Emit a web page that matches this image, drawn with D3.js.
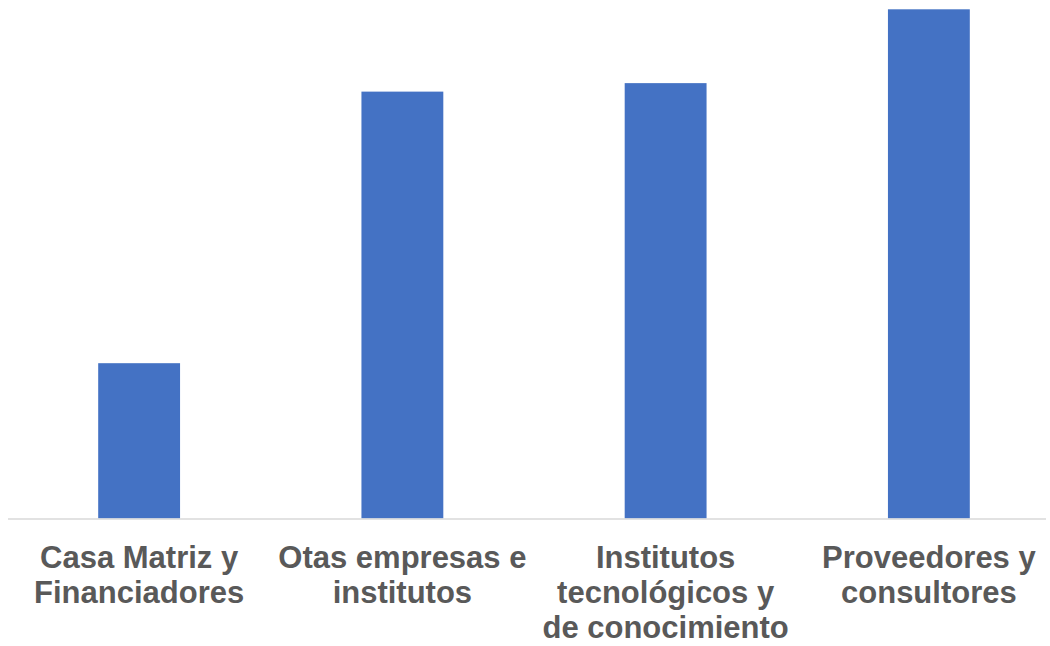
<!DOCTYPE html>
<html>
<head>
<meta charset="utf-8">
<script src="https://cdn.jsdelivr.net/npm/d3@7"></script>
<style>
  body { margin: 0; background: #fff; }
  svg { display: block; }
</style>
</head>
<body>
<svg width="1050" height="646"></svg>
<script>
// Category labels, already broken into lines as in the original chart
var categories = [
    ["Casa Matriz y", "Financiadores"],
    ["Otas empresas e", "institutos"],
    ["Institutos", "tecnológicos y", "de conocimiento"],
    ["Proveedores y", "consultores"]
];

// Values (no value axis shown)
var values = [18.3, 50.3, 51.3, 60];

var svg = d3.select("svg"),
    width = +svg.attr("width"),
    height = +svg.attr("height");

var baseline = 518.5;

var x = d3.scaleBand()
    .domain(d3.range(categories.length))
    .range([7.5, 1060.5])
    .paddingInner(0.689)
    .paddingOuter(0.3445);

var y = d3.scaleLinear()
    .domain([0, 60])
    .range([baseline, 9.3]);

// Bars
svg.append("g")
    .selectAll("rect")
    .data(values)
    .enter().append("rect")
    .attr("x", function(d, i) { return x(i); })
    .attr("width", x.bandwidth())
    .attr("y", function(d) { return y(d); })
    .attr("height", function(d) { return baseline - y(d); })
    .attr("fill", "#4472C4");

// Category axis line
svg.append("line")
    .attr("x1", 8)
    .attr("x2", 1046)
    .attr("y1", baseline + 0.5)
    .attr("y2", baseline + 0.5)
    .attr("stroke", "#D9D9D9")
    .attr("stroke-width", 1.5);

// Category labels
var label = svg.append("g")
    .selectAll("text")
    .data(categories)
    .enter().append("text")
    .attr("text-anchor", "middle")
    .attr("font-family", "'Liberation Sans', Arial, sans-serif")
    .attr("font-weight", "bold")
    .attr("font-size", "31px")
    .attr("fill", "#595959")
    .attr("transform", function(d, i) {
        return "translate(" + (x(i) + x.bandwidth() / 2) + ",568)";
    });

label.selectAll("tspan")
    .data(function(d) { return d; })
    .enter().append("tspan")
    .attr("x", 0)
    .attr("y", function(d, j) { return j * 35; })
    .text(function(d) { return d; });
</script>
</body>
</html>
